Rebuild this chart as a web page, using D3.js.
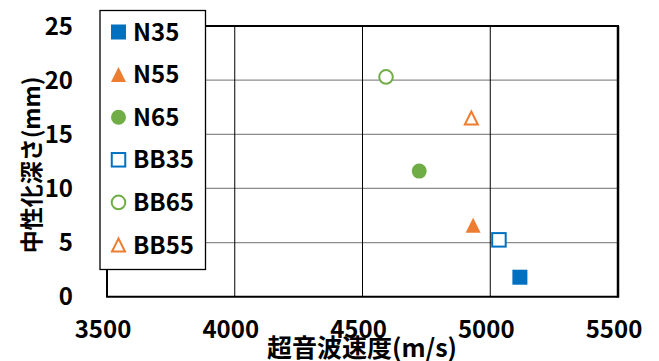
<!DOCTYPE html>
<html><head><meta charset="utf-8">
<script src="https://cdn.jsdelivr.net/npm/d3@7"></script>
<style>body{margin:0;background:#fff}svg{display:block}text{font-family:"Noto Sans CJK JP","Noto Sans",sans-serif;font-weight:bold;fill:#000}</style>
</head><body><svg id="c" width="659" height="361"></svg>
<script>
const seriesNames = ["N35","N55","N65","BB35","BB65","BB55"];
const xValues = [5116, 4933, 4722, 5034, 4592, 4926];
const yValues = [1.8, 6.6, 11.6, 5.25, 20.3, 16.5];
const colors = ["#0070C0","#ED7D31","#70AD47","#0070C0","#70AD47","#ED7D31"];
const shapes = ["square","triangle","circle","square","circle","triangle"];
const filled = [true,true,true,false,false,false];
const xTicks = [3500,4000,4500,5000,5500];
const yTicks = [0,5,10,15,20,25];
const xTitle = "超音波速度(m/s)";
const yTitle = "中性化深さ(mm)";

const svg = d3.select("#c");
const x = d3.scaleLinear().domain([3500,5500]).range([107,618]);
const y = d3.scaleLinear().domain([0,25]).range([296.7,26]);

// horizontal grid
svg.append("g").selectAll("line").data(yTicks.filter(d=>d>0&&d<25)).join("line")
  .attr("x1",x(3500)).attr("x2",x(5500)).attr("y1",d=>y(d)).attr("y2",d=>y(d))
  .attr("stroke","#8c8c8c").attr("stroke-width",1.3);
// vertical grid
svg.append("g").selectAll("line").data(xTicks.filter(d=>d>3500&&d<5500)).join("line")
  .attr("x1",d=>x(d)).attr("x2",d=>x(d)).attr("y1",y(25)).attr("y2",y(0))
  .attr("stroke","#000").attr("stroke-width",1);
// frame
svg.append("line").attr("x1",x(3500)).attr("x2",x(5500)+1).attr("y1",y(25)).attr("y2",y(25)).attr("stroke","#000").attr("stroke-width",2);
svg.append("line").attr("x1",x(5500)).attr("x2",x(5500)).attr("y1",y(25)).attr("y2",y(0)+1).attr("stroke","#000").attr("stroke-width",2.5);
svg.append("line").attr("x1",x(3500)-1).attr("x2",x(5500)).attr("y1",y(0)).attr("y2",y(0)).attr("stroke","#000").attr("stroke-width",2);
svg.append("line").attr("x1",x(3500)).attr("x2",x(3500)).attr("y1",y(25)).attr("y2",y(0)).attr("stroke","#000").attr("stroke-width",2);

// tick labels
svg.append("g").selectAll("text").data(yTicks).join("text")
  .attr("x",73).attr("y",d=>y(d)).attr("dy","0.36em").attr("text-anchor","end")
  .attr("font-size",24).text(d=>d);
svg.append("g").selectAll("text").data(xTicks).join("text")
  .attr("x",d=>x(d)-4).attr("y",338).attr("text-anchor","middle")
  .attr("font-size",24).text(d=>d);

// axis titles
svg.append("text").attr("transform","translate(40,165) rotate(-90)").attr("text-anchor","middle")
  .attr("font-size",23).text(yTitle);
svg.append("text").attr("x",362).attr("y",357).attr("text-anchor","middle")
  .attr("font-size",25).text(xTitle);

function drawMarker(g, shape, color, fill, cx, cy){
  const sw = 2;
  if(shape==="square"){
    const s = fill?15:13.5;
    g.append("rect").attr("x",cx-s/2).attr("y",cy-s/2).attr("width",s).attr("height",s)
      .attr("fill",fill?color:"#fff").attr("stroke",fill?"none":color).attr("stroke-width",sw);
  } else if(shape==="circle"){
    const r = fill?7.5:6.8;
    g.append("circle").attr("cx",cx).attr("cy",cy).attr("r",r)
      .attr("fill",fill?color:"#fff").attr("stroke",fill?"none":color).attr("stroke-width",sw);
  } else {
    const h = fill?15:13, w = fill?15:13;
    const pts = [[cx,cy-h/2],[cx+w/2,cy+h/2],[cx-w/2,cy+h/2]];
    g.append("path").attr("d",d3.line()(pts)+"Z")
      .attr("fill",fill?color:"#fff").attr("stroke",fill?"none":color).attr("stroke-width",sw).attr("stroke-linejoin","miter");
  }
}

const pts = svg.append("g");
seriesNames.forEach((n,i)=>drawMarker(pts, shapes[i], colors[i], filled[i], x(xValues[i]), y(yValues[i])));

// legend
const lg = svg.append("g");
lg.append("rect").attr("x",100).attr("y",10.5).attr("width",105.5).attr("height",259)
  .attr("fill","#fff").attr("stroke","#000").attr("stroke-width",1.3);
seriesNames.forEach((n,i)=>{
  const cy = 32 + i*42.6;
  drawMarker(lg, shapes[i], colors[i], filled[i], 118.5, cy);
  lg.append("text").attr("x",133).attr("y",cy).attr("dy","0.36em").attr("font-size",24).text(n);
});
</script></body></html>
